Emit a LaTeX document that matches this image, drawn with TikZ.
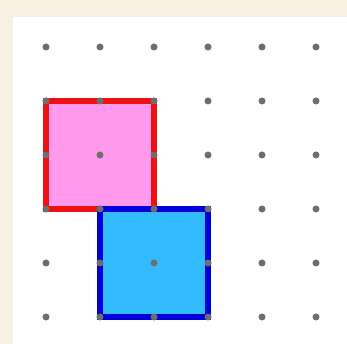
\documentclass[tikz,border=0pt]{standalone}
\usepackage{xcolor}
\definecolor{framebg}{HTML}{F8F0E0}
\definecolor{pegcolor}{HTML}{6E6E6E}
\definecolor{pinkfill}{HTML}{FF99EE}
\definecolor{redline}{HTML}{EE1111}
\definecolor{cyanfill}{HTML}{33BBFF}
\definecolor{blueline}{HTML}{0000DD}

\begin{document}
\begin{tikzpicture}[x=1cm, y=1cm,
    peg/.style={fill=pegcolor},
    square/.style={line width=2.7pt, line join=miter}]
            % Background and board
            \useasboundingbox (-0.852,-0.5) rectangle (5.574,5.870);
            \fill[framebg] (-0.852,-0.5) rectangle (5.574,5.870);
            \fill[white] (-0.611,-0.5) rectangle (5.574,5.556);

            % Pink square
            \filldraw[square, fill=pinkfill, draw=redline] (0,2) rectangle (2,4);

            % Blue square
            \filldraw[square, fill=cyanfill, draw=blueline] (1,0) rectangle (3,2);

            % Pegs
            \foreach \i in {0,...,5}
                \foreach \j in {0,...,5}
                    \fill[peg] (\i,\j) circle (0.065);
        \end{tikzpicture}
\end{document}
